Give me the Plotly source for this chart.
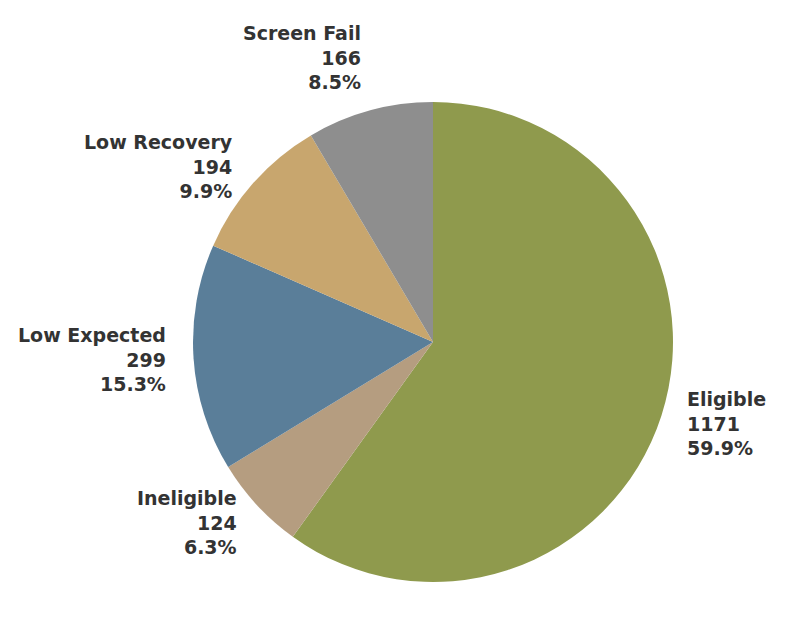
import math
import plotly.graph_objects as go

categories = ["Eligible", "Ineligible", "Low Expected", "Low Recovery", "Screen Fail"]
counts = [1171, 124, 299, 194, 166]
colors = ["#8F9A4D", "#B59D80", "#5A7E99", "#C8A66E", "#8E8E8E"]

W, H = 792, 631
cx, cy, R = 433, 342, 240  # pie center / radius in pixels
ml, mt = cx - R, cy - R
mr, mb = W - (cx + R), H - (cy + R)

total = sum(counts)
fig = go.Figure(go.Pie(
    labels=categories, values=counts, marker=dict(colors=colors, line=dict(width=0)),
    sort=False, direction="clockwise", rotation=0, textinfo="none",
    hoverinfo="label+value+percent", showlegend=False,
))

annotations = []
cum = 0
for cat, v in zip(categories, counts):
    frac = v / total
    mid = cum + frac / 2
    cum += frac
    ang = math.radians(90 - mid * 360)
    c, s = math.cos(ang), math.sin(ang)
    rl = R * 1.105
    dx, dy = rl * c, rl * s
    if s > 0.9:
        dy += 30 * s
    right = c >= 0
    annotations.append(dict(
        x=0.5, y=0.5, xref="paper", yref="paper", xshift=dx, yshift=dy,
        text=f"<b>{cat}<br>{v}<br>{frac*100:.1f}%</b>", showarrow=False,
        xanchor="left" if right else "right", yanchor="middle",
        align="left" if right else "right",
        font=dict(family="DejaVu Sans, sans-serif", size=19, color="#333333"),
    ))

fig.update_layout(
    width=W, height=H, margin=dict(l=ml, r=mr, t=mt, b=mb, autoexpand=False),
    paper_bgcolor="white", plot_bgcolor="white", annotations=annotations,
)
fig.update_traces(domain=dict(x=[0, 1], y=[0, 1]))
fig.write_html("out.html")
